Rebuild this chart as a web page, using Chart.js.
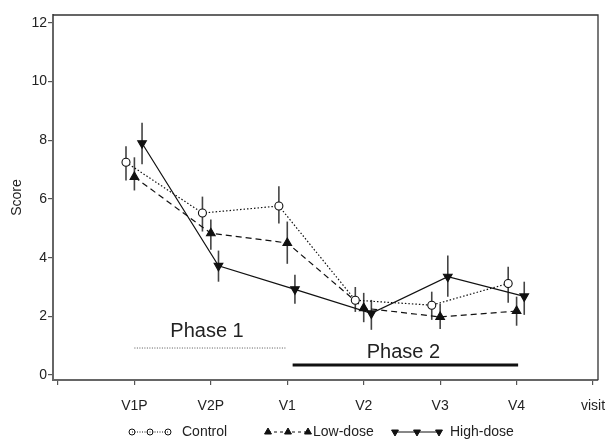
<!DOCTYPE html>
<html>
<head>
<meta charset="utf-8">
<script src="https://cdn.jsdelivr.net/npm/chart.js@4"></script>
<style>
  html, body { margin: 0; padding: 0; background: #fff; }
  #wrap { width: 606px; height: 439px; }
</style>
</head>
<body>
<div id="wrap"><canvas id="chart"></canvas></div>
<script>
// x positions: 1..6 are the visits, 0 and 7 are the bare ends of the axis
const tickLabels = ['', 'V1P', 'V2P', 'V1', 'V2', 'V3', 'V4', 'visit'];
const visits = [1, 2, 3, 4, 5, 6];
const seriesNames = ['Control', 'Low-dose', 'High-dose'];

const controlMean = [7.25, 5.52, 5.76, 2.55, 2.38, 3.12];
const controlLow  = [6.63, 4.89, 5.16, 2.15, 1.88, 2.46];
const controlHigh = [7.80, 6.08, 6.43, 3.00, 2.84, 3.69];

const lowMean = [6.75, 4.83, 4.50, 2.28, 1.98, 2.18];
const lowLow  = [6.29, 4.27, 3.79, 1.80, 1.57, 1.68];
const lowHigh = [7.42, 5.30, 5.23, 2.80, 2.43, 2.67];

const highMean = [7.90, 3.72, 2.92, 2.10, 3.35, 2.68];
const highLow  = [7.18, 3.18, 2.43, 1.54, 2.67, 2.05];
const highHigh = [8.60, 4.24, 3.42, 2.56, 4.07, 3.18];

const yTicks = [0, 2, 4, 6, 8, 10, 12];

// phase bars under the curves
const phase1X = [1.0, 2.98];
const phase1Y = [0.92, 0.92];
const phase2X = [3.07, 6.02];
const phase2Y = [0.34, 0.34];
const phaseLabels = ['Phase 1', 'Phase 2'];
const phaseLabelX = [1.95, 4.52];
const phaseLabelY = [1.50, 0.76];

// small sideways shift so the three groups don't sit on top of each other
const shift = [-0.11, 0, 0.1];

const FONT = 'Liberation Sans, Arial, Helvetica, sans-serif';
const INK = '#111';
const BAR = '#444';

function points(means, k) {
    return means.map((m, i) => ({ x: visits[i] + shift[k], y: m }));
}
function errBars(lo, hi, k) {
    return lo.map((l, i) => ({ x: visits[i] + shift[k], y: [l, hi[i]] }));
}
function pairs(xs, ys) {
    return xs.map((x, i) => ({ x: x, y: ys[i] }));
}

const lineStyles = [
    { borderDash: [1.5, 2], pointStyle: 'circle', pointRadius: 4, pointBackgroundColor: '#fff', pointRotation: 0 },
    { borderDash: [6, 4], pointStyle: 'triangle', pointRadius: 5, pointBackgroundColor: INK, pointRotation: 0 },
    { borderDash: [], pointStyle: 'triangle', pointRadius: 5, pointBackgroundColor: INK, pointRotation: 180 }
];

const means = [controlMean, lowMean, highMean];
const lows = [controlLow, lowLow, highLow];
const highs = [controlHigh, lowHigh, highHigh];

const datasets = [];
seriesNames.forEach((name, k) => {
    datasets.push({
        type: 'line',
        label: name,
        data: points(means[k], k),
        borderColor: INK,
        borderWidth: 1.2,
        borderDash: lineStyles[k].borderDash,
        pointStyle: lineStyles[k].pointStyle,
        pointRadius: lineStyles[k].pointRadius,
        pointRotation: lineStyles[k].pointRotation,
        pointBackgroundColor: lineStyles[k].pointBackgroundColor,
        pointBorderColor: INK,
        pointBorderWidth: 1.1,
        tension: 0,
        order: 1
    });
    datasets.push({
        type: 'bar',
        label: name + ' range',
        data: errBars(lows[k], highs[k], k),
        backgroundColor: BAR,
        borderWidth: 0,
        grouped: false,
        maxBarThickness: 1.6,
        order: 2
    });
});
datasets.push({
    type: 'line',
    label: 'Phase 1',
    data: pairs(phase1X, phase1Y),
    borderColor: '#555',
    borderWidth: 1,
    borderDash: [1, 1.5],
    pointRadius: 0,
    order: 3
});
datasets.push({
    type: 'line',
    label: 'Phase 2',
    data: pairs(phase2X, phase2Y),
    borderColor: INK,
    borderWidth: 3,
    pointRadius: 0,
    order: 3
});

// top and right edges of the box
const frame = {
    id: 'frame',
    afterDraw(chart) {
        const { ctx, chartArea: a } = chart;
        ctx.save();
        ctx.strokeStyle = '#333';
        ctx.lineWidth = 1.3;
        ctx.beginPath();
        ctx.moveTo(a.left, a.top);
        ctx.lineTo(a.right, a.top);
        ctx.lineTo(a.right, a.bottom);
        ctx.stroke();
        ctx.restore();
    }
};

const phaseText = {
    id: 'phaseText',
    afterDatasetsDraw(chart) {
        const { ctx, scales } = chart;
        ctx.save();
        ctx.fillStyle = '#222';
        ctx.font = '20px ' + FONT;
        ctx.textAlign = 'center';
        ctx.textBaseline = 'middle';
        phaseLabels.forEach((t, i) => {
            ctx.fillText(t, scales.x.getPixelForValue(phaseLabelX[i]), scales.y.getPixelForValue(phaseLabelY[i]));
        });
        ctx.restore();
    }
};

// legend: three markers joined by the series line, then the name
const legendMarks = {
    id: 'legendMarks',
    afterDraw(chart) {
        const { ctx } = chart;
        const y = 432;
        const starts = [132, 268, 395];
        const gaps = [18, 20, 22];
        const textGap = [14, 5, 11];
        ctx.save();
        ctx.font = '14px ' + FONT;
        ctx.textBaseline = 'middle';
        ctx.textAlign = 'left';
        seriesNames.forEach((name, k) => {
            const st = lineStyles[k];
            const x0 = starts[k];
            const gap = gaps[k];
            ctx.strokeStyle = INK;
            ctx.lineWidth = 1;
            ctx.setLineDash(st.borderDash.length ? (k === 0 ? [1, 1.5] : [3, 3]) : []);
            ctx.beginPath();
            ctx.moveTo(x0, y);
            ctx.lineTo(x0 + 2 * gap, y);
            ctx.stroke();
            ctx.setLineDash([]);
            for (let j = 0; j < 3; j++) {
                ctx.fillStyle = k === 0 ? 'rgba(0,0,0,0)' : INK;
                Chart.helpers.drawPoint(ctx, {
                    pointStyle: st.pointStyle,
                    radius: k === 0 ? 3 : 4,
                    rotation: st.pointRotation,
                    borderWidth: 1
                }, x0 + j * gap, y);
            }
            ctx.fillStyle = '#222';
            ctx.fillText(name, x0 + 2 * gap + textGap[k], y);
        });
        ctx.restore();
    }
};

new Chart(document.getElementById('chart'), {
    type: 'line',
    data: { datasets: datasets },
    options: {
        responsive: true,
        maintainAspectRatio: false,
        animation: false,
        layout: { padding: { top: 15, right: 8, left: 0, bottom: 0 } },
        plugins: {
            legend: { display: false },
            tooltip: { enabled: false }
        },
        scales: {
            x: {
                type: 'linear',
                min: -0.065,
                max: 7.065,
                offset: false,
                afterBuildTicks: s => { s.ticks = tickLabels.map((_, i) => ({ value: i })); },
                // let the "visit" label hang over the edge like in the print
                afterFit: s => { s.height = 59; s.paddingLeft = 0; s.paddingRight = 0; },
                grid: { display: true, offset: false, drawOnChartArea: false, drawTicks: true, tickLength: 5, color: '#555', lineWidth: 1.2 },
                border: { display: true, color: '#666', width: 2 },
                ticks: {
                    autoSkip: false,
                    maxRotation: 0,
                    padding: 13,
                    color: '#222',
                    font: { family: FONT, size: 14 },
                    callback: v => tickLabels[v]
                }
            },
            y: {
                min: -0.17,
                max: 12.27,
                afterBuildTicks: s => { s.ticks = yTicks.map(v => ({ value: v })); },
                afterFit: s => { s.width = 53; },
                grid: { display: true, drawOnChartArea: false, drawTicks: true, tickLength: 5, color: '#555', lineWidth: 1.2 },
                border: { display: true, color: '#666', width: 2 },
                ticks: {
                    padding: 1,
                    color: '#222',
                    font: { family: FONT, size: 14 }
                },
                title: {
                    display: true,
                    text: 'Score',
                    color: '#222',
                    font: { family: FONT, size: 14 },
                    padding: { top: 9, bottom: 0 }
                }
            }
        }
    },
    plugins: [frame, phaseText, legendMarks]
});
</script>
</body>
</html>
